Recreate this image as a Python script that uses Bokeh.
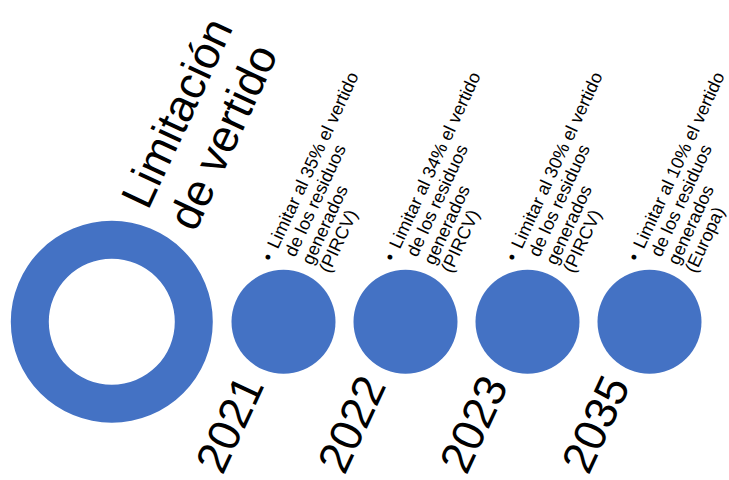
import numpy as np
from bokeh.plotting import figure
from bokeh.models import Range1d
from bokeh.embed import file_html
from bokeh.resources import INLINE
from bokeh.core.properties import value

# ---- data ----
years = ["2021", "2022", "2023", "2035"]
limits = [35, 34, 30, 10]
sources = ["PIRCV", "PIRCV", "PIRCV", "Europa"]
title_lines = ["Limitación", "de vertido"]

BLUE = "#4472C4"
FONT = value("Liberation Sans")
theta = np.deg2rad(65)
u = np.array([np.cos(theta), -np.sin(theta)])   # baseline direction (page coords, y down)
v = np.array([np.sin(theta), np.cos(theta)])    # next-line direction

W, H = 729, 480
p = figure(width=W, height=H, x_range=Range1d(0, W), y_range=Range1d(H, 0),
           output_backend="svg", toolbar_location=None, min_border=0)
p.axis.visible = False
p.grid.visible = False
p.outline_line_color = None
p.background_fill_color = None
p.border_fill_color = None

# big ring
p.annulus(x=[111.3], y=[321.3], inner_radius=63, outer_radius=101,
          fill_color=BLUE, line_color=None)

n = len(years)
cx = [283 + 122 * i for i in range(n)]
cy = [321.3] * n
p.circle(x=cx, y=cy, radius=52, fill_color=BLUE, line_color=None)

# title
t0 = np.array([133.5, 204.0])
tx, ty = [], []
for k in range(len(title_lines)):
    pt = t0 + k * 52 * v
    tx.append(pt[0]); ty.append(pt[1])
p.text(x=tx, y=ty, text=title_lines, angle=theta, text_font=FONT,
       text_font_size="45px", text_color="black", text_align="left",
       text_baseline="alphabetic")

# years
yx = [c - 75 for c in cx]
yy = [469] * n
p.text(x=yx, y=yy, text=years, angle=theta, text_font=FONT,
       text_font_size="45px", text_color="black", text_align="left",
       text_baseline="alphabetic")

# bullet descriptions
bx, by, lx, ly, lt = [], [], [], [], []
LS = 19
IND = 14
for i in range(n):
    lines = [f"Limitar al {limits[i]}% el vertido", "de los residuos",
             "generados", f"({sources[i]})"]
    A = np.array([cx[i] - 17, 259.5])
    bx.append(A[0]); by.append(A[1])
    for k, s in enumerate(lines):
        pt = A + k * LS * v + IND * u
        lx.append(pt[0]); ly.append(pt[1]); lt.append(s)
p.text(x=bx, y=by, text=["•"] * n, angle=theta, text_font=FONT,
       text_font_size="18px", text_color="black", text_align="left",
       text_baseline="alphabetic")
p.text(x=lx, y=ly, text=lt, angle=theta, text_font=FONT,
       text_font_size="18px", text_color="black", text_align="left",
       text_baseline="alphabetic")

open("out.html", "w").write(file_html(p, INLINE))
